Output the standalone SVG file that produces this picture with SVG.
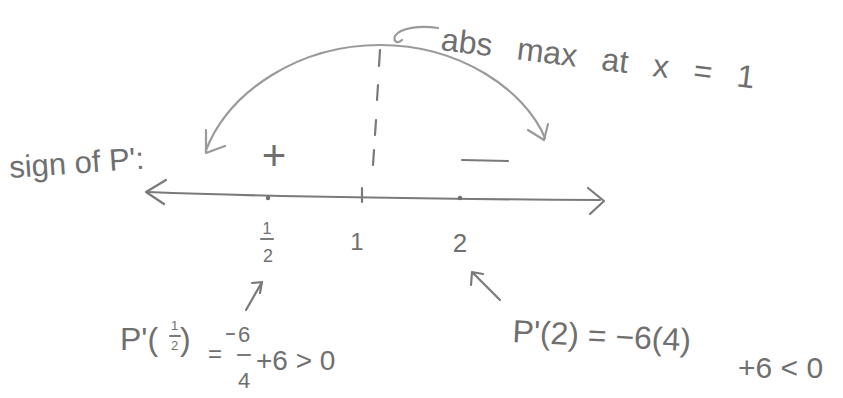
<svg xmlns="http://www.w3.org/2000/svg" width="843" height="398" viewBox="0 0 843 398">
<defs>
<style>
.ink{fill:none;stroke:#7a7a7a;stroke-width:2.2;stroke-linecap:round;stroke-linejoin:round}
.soft{fill:none;stroke:#9a9a9a;stroke-width:2.2;stroke-linecap:round;stroke-linejoin:round}
.t{font-family:"Liberation Sans","DejaVu Sans",sans-serif;fill:#6f6f6f}
</style>
</defs>
<rect width="843" height="398" fill="#ffffff"/>
<g id="connectors">
<path class="soft" d="M206,150 C230,90 300,45 380,45 C460,45 525,90 545,138"/>
<path class="soft" d="M206,130 L206,153 L225,146"/>
<path class="soft" d="M528,130 L544,140 L548,124"/>
<path class="ink" d="M380,50 L379,66 M378,85 L377,100 M376,120 L375,135 M374,150 L373,165"/>
<path class="soft" d="M438,28 C420,25 400,28 395,36 C393,42 398,44 402,40"/>
<path class="ink" d="M246,310 L262,282 M252,283 L262,282 L260,293"/>
<path class="ink" d="M500,300 L472,272 M471,285 L472,272 L483,274"/>
</g>
<g id="number-line">
<path class="ink" d="M148,192 C250,196 450,199 600,200"/>
<path class="ink" d="M166,180 L146,192 L164,204"/>
<path class="ink" d="M588,188 L604,201 L590,214"/>
<circle cx="268" cy="198" r="2.2" fill="#6f6f6f"/>
<path class="ink" d="M362,188 L362,202"/>
<circle cx="460" cy="198" r="2.2" fill="#6f6f6f"/>
<text class="t" x="267" y="234" font-size="16" text-anchor="middle">1</text>
<path class="ink" d="M261,239 L273,239"/>
<text class="t" x="268" y="262" font-size="18" text-anchor="middle">2</text>
<text class="t" x="357" y="250" font-size="24" text-anchor="middle">1</text>
<text class="t" x="460" y="252" font-size="26" text-anchor="middle">2</text>
</g>
<g id="sign-label">
<text class="t" x="10" y="178" font-size="31" transform="rotate(-4 10 178)">sign of P':</text>
<text class="t" x="274" y="170" font-size="42" text-anchor="middle">+</text>
<path class="ink" d="M462,160 L508,161"/>
</g>
<g id="max-label">
<text class="t" x="440" y="50" font-size="32" word-spacing="16" transform="rotate(7 440 50)">abs max at x = 1</text>
</g>
<g id="p-half">
<text class="t" x="120" y="350" font-size="32">P'(</text>
<text class="t" x="171" y="330" font-size="13">1</text>
<text class="t" x="171" y="350" font-size="13">2</text>
<path class="ink" d="M170,336 L180,336"/>
<text class="t" x="180" y="350" font-size="32">)</text>
<text class="t" x="208" y="362" font-size="24">=</text>
<path class="ink" d="M227,334 L234,334"/>
<text class="t" x="238" y="342" font-size="22">6</text>
<path class="ink" d="M238,355 L250,355"/>
<text class="t" x="238" y="388" font-size="22">4</text>
<text class="t" x="256" y="370" font-size="28">+6 &gt; 0</text>
</g>
<g id="p-two">
<text class="t" x="512" y="342" font-size="32" transform="rotate(3 512 342)">P'(2) = −6(4)</text>
<text class="t" x="738" y="378" font-size="30">+6 &lt; 0</text>
</g>
</svg>
